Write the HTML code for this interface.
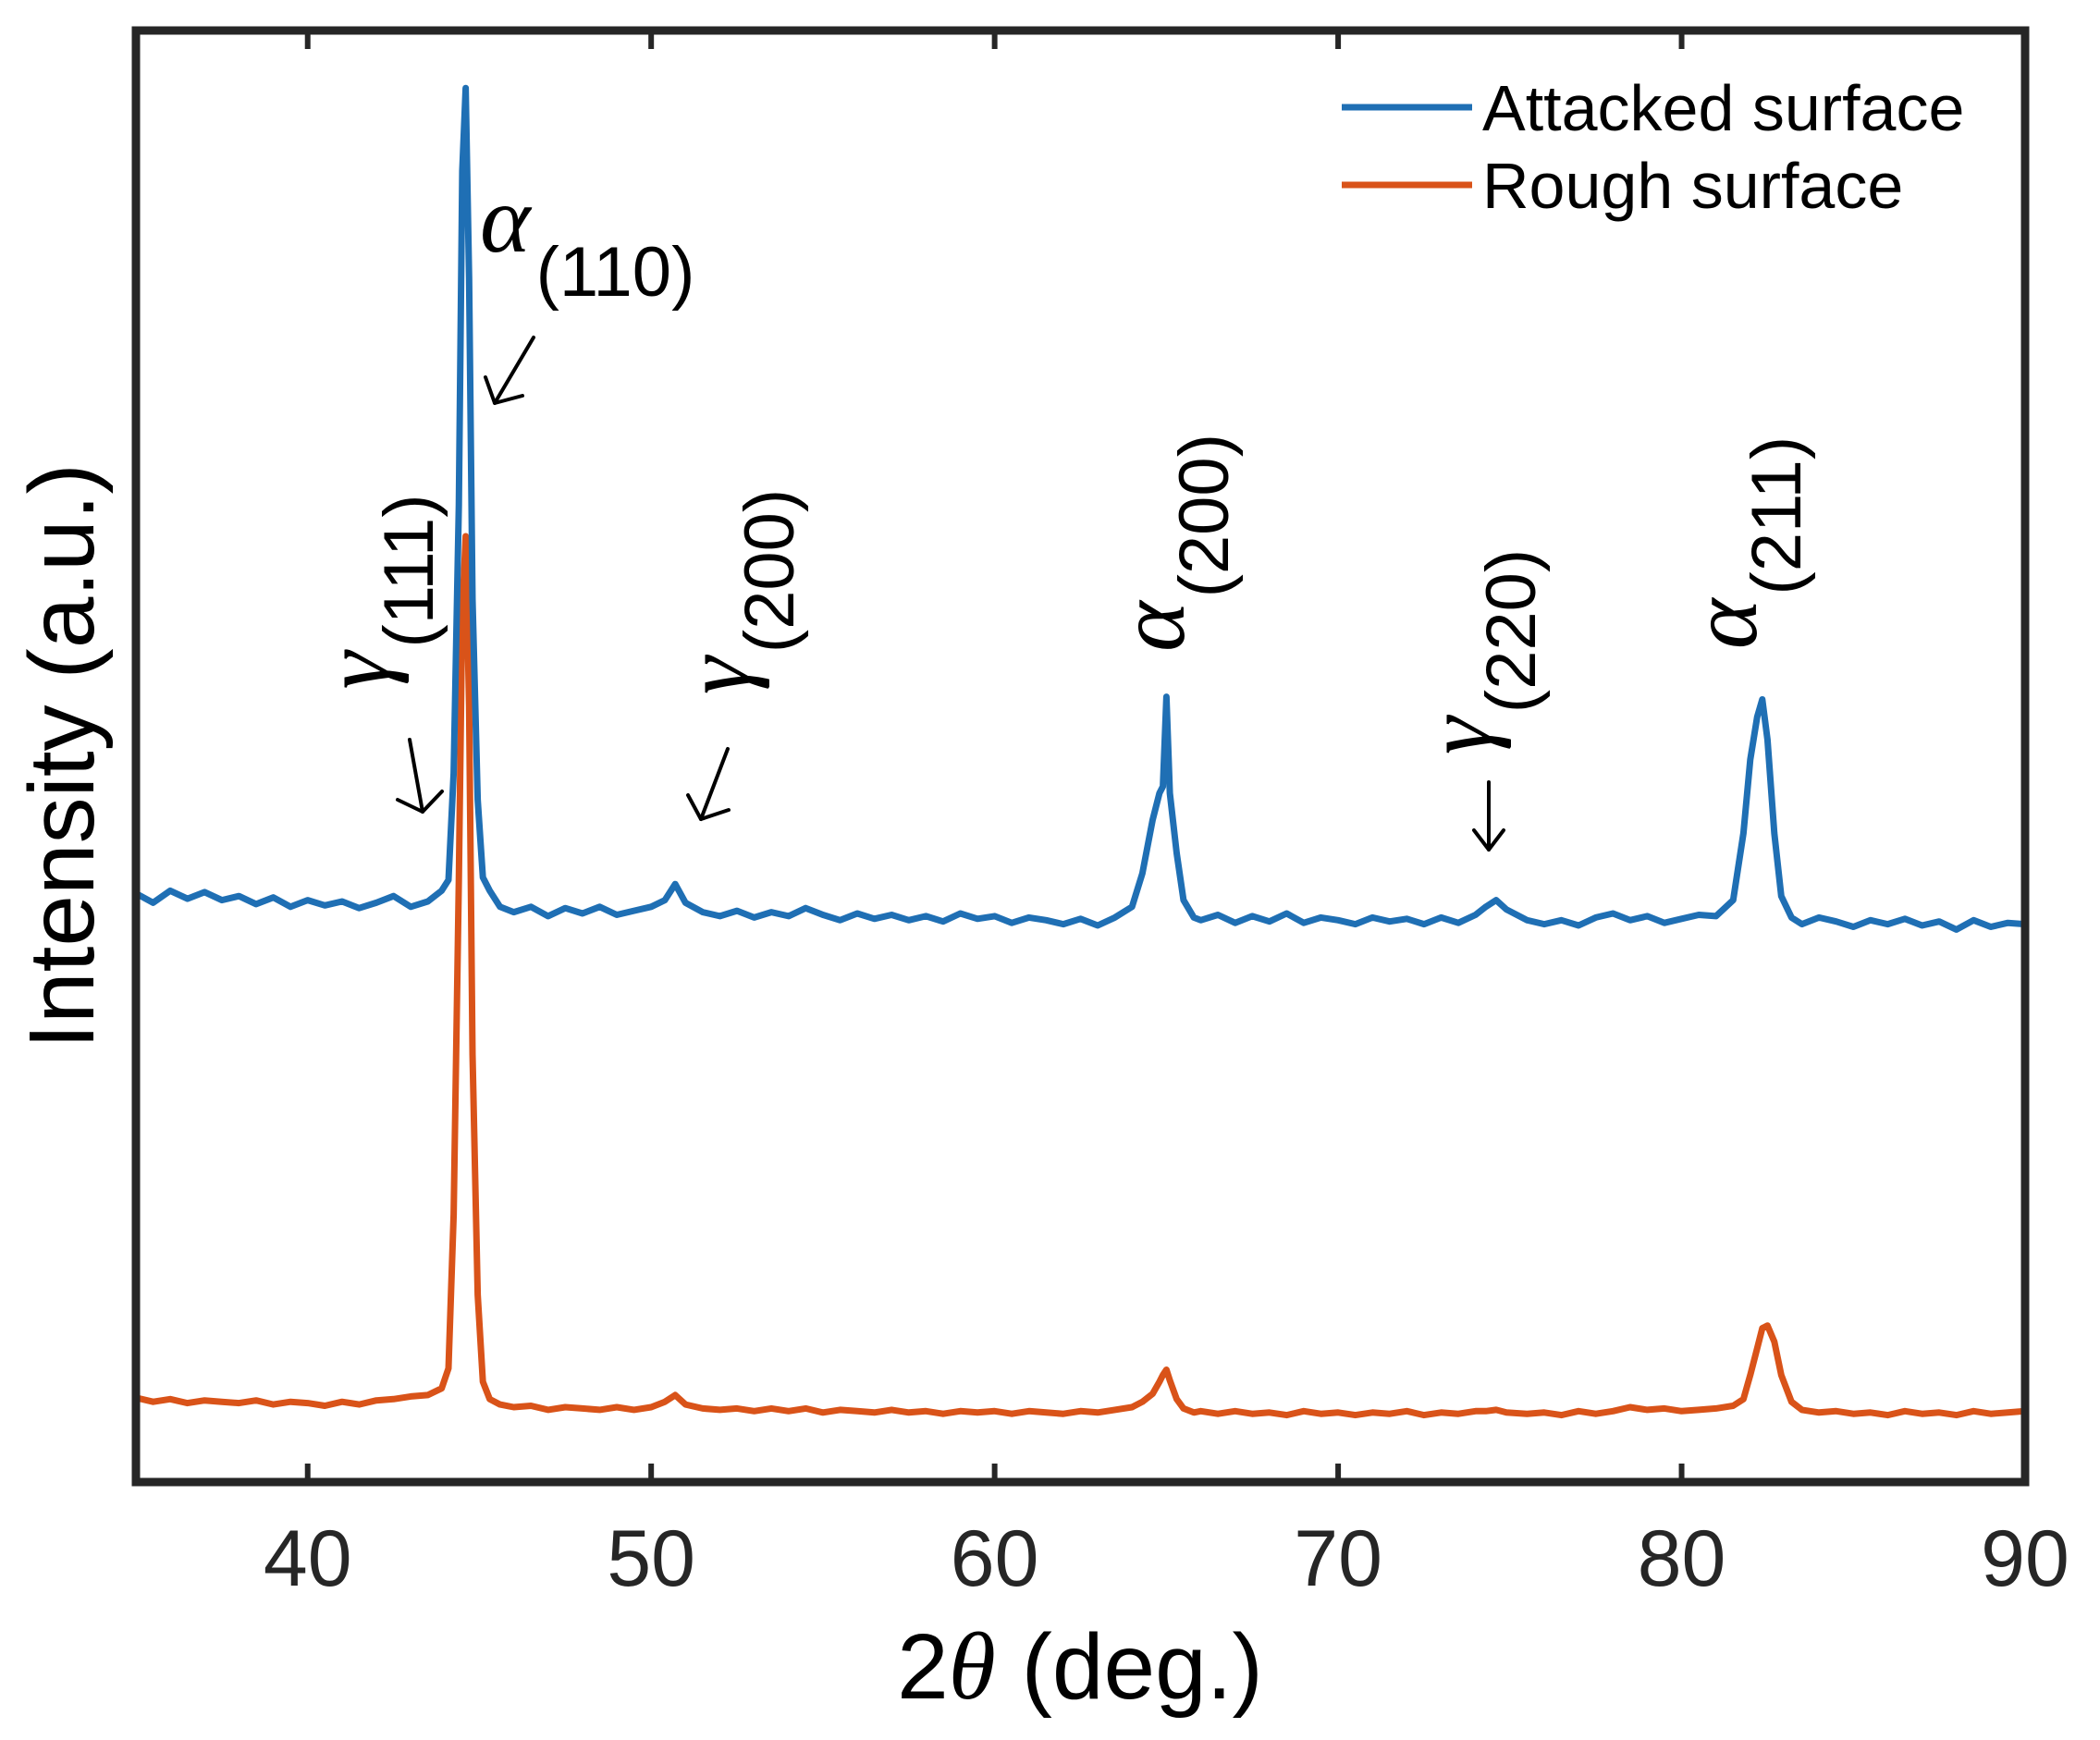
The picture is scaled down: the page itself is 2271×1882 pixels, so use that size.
<!DOCTYPE html>
<html><head><meta charset="utf-8"><style>
html,body{margin:0;padding:0;background:#fff;}
svg{display:block;}
text{font-family:"Liberation Sans",sans-serif;fill:#000;}
.tick{fill:#262626;}
.gk{font-family:"Liberation Serif",serif;font-style:italic;}
</style></head><body>
<svg id="chart" width="2271" height="1882" viewBox="0 0 2271 1882" xmlns="http://www.w3.org/2000/svg">
<g id="plot"></g>
<g id="axes"></g>
<g id="annot"></g>
<g id="legend"></g>
</svg>
<script>
const xTicks = [40, 50, 60, 70, 80, 90];
const attackedX = [35,35.5,36,36.5,37,37.5,38,38.5,39,39.5,40,40.5,41,41.5,42,42.5,43,43.5,43.9,44.1,44.25,44.4,44.5,44.6,44.7,44.8,44.95,45.1,45.3,45.6,46,46.5,47,47.5,48,48.5,49,49.5,50,50.4,50.7,51,51.5,52,52.5,53,53.5,54,54.5,55,55.5,56,56.5,57,57.5,58,58.5,59,59.5,60,60.5,61,61.5,62,62.5,63,63.5,64,64.3,64.6,64.8,64.9,65.0,65.1,65.3,65.5,65.8,66,66.5,67,67.5,68,68.5,69,69.5,70,70.5,71,71.5,72,72.5,73,73.5,74,74.3,74.6,74.9,75.5,76,76.5,77,77.5,78,78.5,79,79.5,80,80.5,81,81.5,81.8,82.0,82.2,82.35,82.5,82.7,82.9,83.2,83.5,84,84.5,85,85.5,86,86.5,87,87.5,88,88.5,89,89.5,90];
const attackedY = [4400,4330,4420,4360,4410,4350,4380,4320,4370,4300,4350,4310,4340,4290,4330,4380,4300,4340,4420,4500,5300,7300,9800,10420,9000,6600,5100,4520,4420,4300,4260,4300,4230,4290,4250,4300,4240,4270,4300,4350,4470,4330,4260,4230,4270,4220,4260,4230,4290,4240,4200,4250,4210,4240,4200,4230,4190,4250,4210,4230,4180,4220,4200,4170,4210,4160,4220,4300,4550,4950,5150,5200,5870,5150,4700,4350,4220,4200,4240,4180,4230,4190,4250,4180,4220,4200,4170,4220,4190,4210,4170,4220,4180,4240,4300,4350,4280,4200,4170,4200,4160,4220,4250,4200,4230,4180,4210,4240,4230,4350,4850,5400,5720,5850,5550,4850,4380,4220,4170,4220,4190,4150,4200,4170,4210,4160,4190,4130,4200,4150,4180,4170];
const roughX = attackedX;
const roughY = [630,600,620,590,610,600,590,610,580,600,590,570,600,580,610,620,640,650,700,850,2000,4500,6500,7070,5800,3200,1400,750,620,580,560,570,540,560,550,540,560,540,560,600,650,580,550,540,550,530,550,530,550,520,540,530,520,540,520,530,510,530,520,530,510,530,520,510,530,520,540,560,600,660,750,800,840,760,620,550,520,530,510,530,510,520,500,530,510,520,500,520,510,530,500,520,510,530,530,540,520,510,520,500,530,510,530,560,540,550,530,540,550,570,620,800,1000,1150,1170,1050,800,600,540,520,530,510,520,500,530,510,520,500,530,510,520,530];
const series = ['Attacked surface', 'Rough surface'];

const L=147,R=2190,T=33,B=1603, X0=35,X1=90, Y0=0,Y1=10850;
const sx = v => L + (v-X0)/(X1-X0)*(R-L);
const sy = v => B - (v-Y0)/(Y1-Y0)*(B-T);
const NS='http://www.w3.org/2000/svg';
function mk(tag, attrs, parent){const e=document.createElementNS(NS,tag);for(const k in attrs)e.setAttribute(k,attrs[k]);parent.appendChild(e);return e;}

const plot=document.getElementById('plot');
function drawLine(xs, ys, color, name){
  const d=xs.map((x,i)=>(i?'L':'M')+sx(x).toFixed(1)+','+sy(ys[i]).toFixed(1)).join('');
  const p=mk('path',{d:d,fill:'none',stroke:color,'stroke-width':7,'stroke-linejoin':'round'},plot);
  
  
}
drawLine(roughX, roughY, '#D95319', 'rough-surface-line');
drawLine(attackedX, attackedY, '#1F6FB4', 'attacked-surface-line');

const axes=document.getElementById('axes');
const frame=mk('rect',{x:L,y:T,width:R-L,height:B-T,fill:'none',stroke:'#262626','stroke-width':9},axes);


xTicks.forEach(t=>{
  const x=sx(t);
  const tb=mk('line',{x1:x,y1:B,x2:x,y2:B-20,stroke:'#262626','stroke-width':6},axes);
  
  
  const tt=mk('line',{x1:x,y1:T,x2:x,y2:T+20,stroke:'#262626','stroke-width':6},axes);
  
  
  const lb=mk('text',{x:x,y:1715,'text-anchor':'middle','font-size':86,class:'tick'},axes);
  lb.textContent=t;
  
  
});
</script>
<svg style="position:absolute;left:0;top:0" width="2271" height="1882" xmlns="http://www.w3.org/2000/svg">
<text x="1168" y="1837" text-anchor="middle" font-size="100" fill="#262626">2<tspan class="gk" font-size="104">θ</tspan> (deg.)</text>
<text transform="translate(101,818) rotate(-90)" text-anchor="middle" font-size="100" fill="#262626">Intensity (a.u.)</text>

<g>
<line x1="1451" y1="116" x2="1592" y2="116" stroke="#1F6FB4" stroke-width="7"/>
<text x="1603" y="141" font-size="70">Attacked surface</text>
</g>
<g>
<line x1="1451" y1="200" x2="1592" y2="200" stroke="#D95319" stroke-width="7"/>
<text x="1603" y="225" font-size="70">Rough surface</text>
</g>

<g>
<text x="519" y="272" font-size="80"><tspan class="gk" font-size="104">α</tspan><tspan dy="48" dx="6" font-size="76">(110)</tspan></text>
</g>
<g>
<text transform="translate(420,640) rotate(-90)" text-anchor="middle" font-size="80"><tspan class="gk" font-size="104">γ</tspan><tspan dy="48" dx="4" font-size="76">(111)</tspan></text>
</g>
<g>
<text transform="translate(810,640) rotate(-90)" text-anchor="middle" font-size="80"><tspan class="gk" font-size="104">γ</tspan><tspan dy="48" dx="4" font-size="76">(200)</tspan></text>
</g>
<g>
<text transform="translate(1280,587) rotate(-90)" text-anchor="middle" font-size="80"><tspan class="gk" font-size="104">α</tspan><tspan dy="48" dx="4" font-size="76">(200)</tspan></text>
</g>
<g>
<text transform="translate(1612,705) rotate(-90)" text-anchor="middle" font-size="80"><tspan class="gk" font-size="104">γ</tspan><tspan dy="48" dx="4" font-size="76">(220)</tspan></text>
</g>
<g>
<text transform="translate(1899,587) rotate(-90)" text-anchor="middle" font-size="80"><tspan class="gk" font-size="104">α</tspan><tspan dy="48" dx="4" font-size="76">(211)</tspan></text>
</g>

<g stroke="#000" stroke-width="4" fill="none" stroke-linecap="round" stroke-linejoin="round">
<g><line x1="577" y1="365" x2="535" y2="436"/><polyline points="525,408 535,436 565,428"/></g>
<g><line x1="443" y1="800" x2="457" y2="878"/><polyline points="430,865 457,878 478,856"/></g>
<g><line x1="787" y1="810" x2="758" y2="886"/><polyline points="744,860 758,886 788,876"/></g>
<g><line x1="1610" y1="846" x2="1610" y2="919"/><polyline points="1594,898 1610,919 1626,898"/></g>
</g>
</svg>
</body></html>
